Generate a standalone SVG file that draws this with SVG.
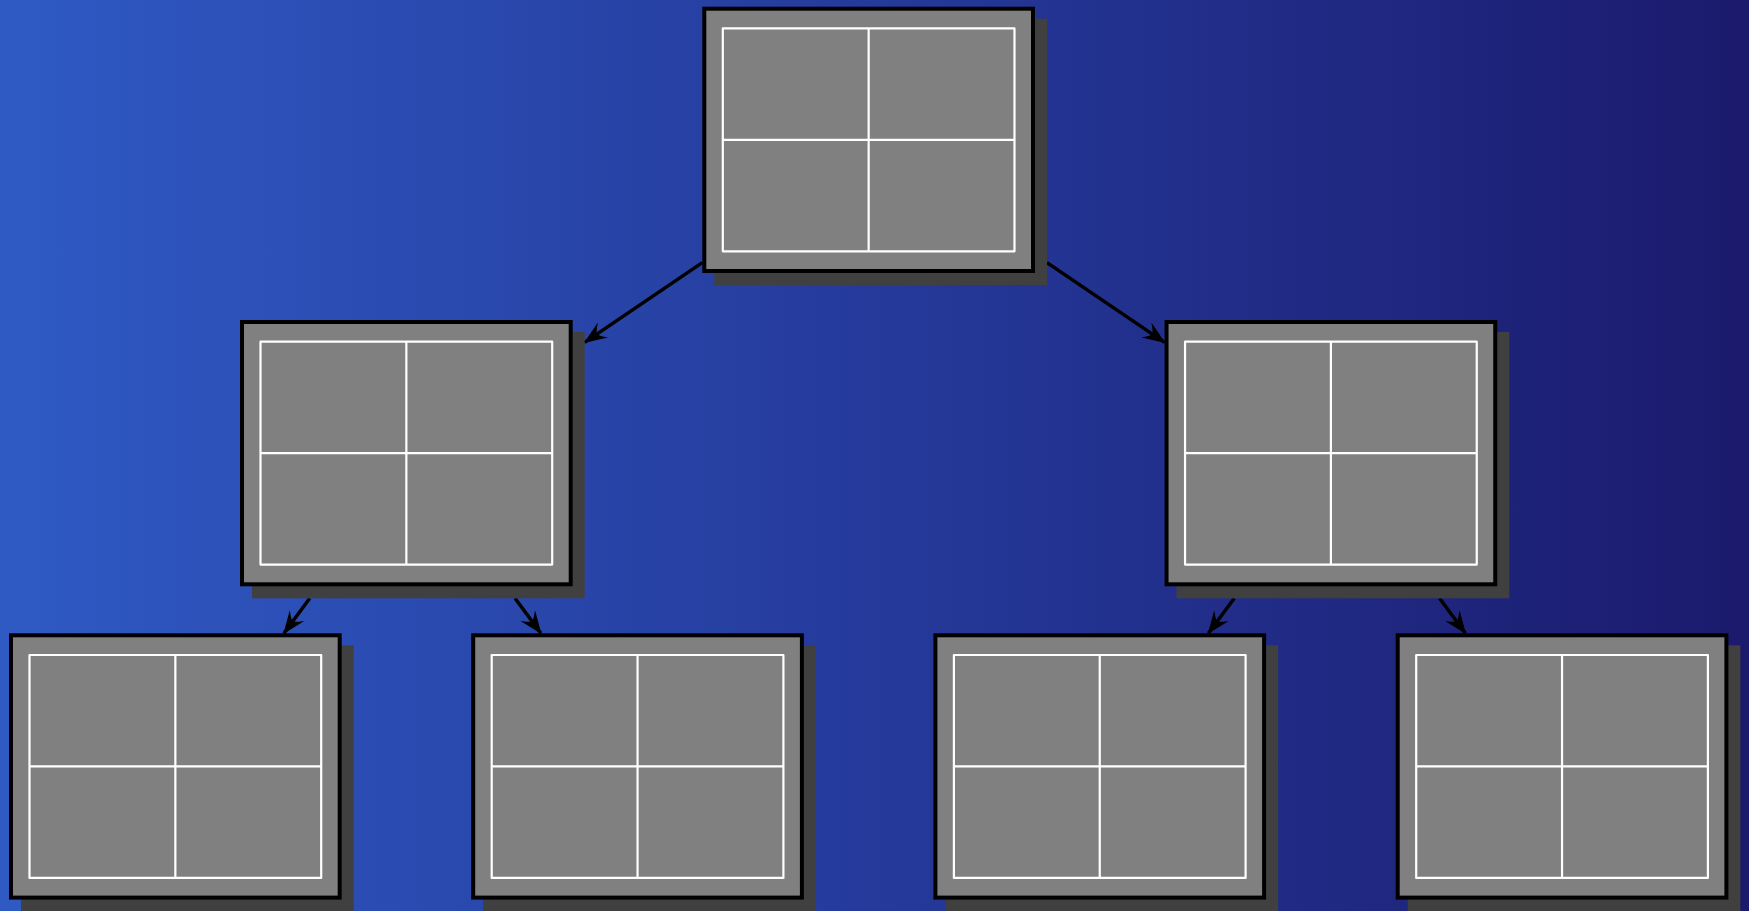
<svg xmlns="http://www.w3.org/2000/svg" width="1749" height="911" viewBox="0 0 1749 911">
  <defs>
    <linearGradient id="bg" x1="0" y1="0" x2="1" y2="0">
      <stop offset="0" stop-color="#2f5ac4"/>
      <stop offset="0.5" stop-color="#253a9b"/>
      <stop offset="1" stop-color="#1b1a6d"/>
    </linearGradient>
    <marker id="head" markerUnits="userSpaceOnUse" viewBox="-24 -11 26 22" refX="0" refY="0" markerWidth="26" markerHeight="22" orient="auto">
      <path d="M1,0 L-22,-9 Q-16,-3 -14.5,0 Q-16,3 -22,9 Z" fill="#000"/>
    </marker>
    <!-- one tree node: drop shadow, framed panel and a 2x2 grid -->
    <g id="panel">
      <rect x="10" y="10" width="332.7" height="266.3" fill="#404040"/>
      <rect x="0" y="0" width="328.7" height="262.3" fill="#808080" stroke="#000" stroke-width="4"/>
      <rect x="18.5" y="19.7" width="291.7" height="222.9" fill="none" stroke="#fff" stroke-width="2.2" stroke-linejoin="round"/>
      <line x1="164.35" y1="19.7" x2="164.35" y2="242.6" stroke="#fff" stroke-width="2.2"/>
      <line x1="18.5" y1="131.15" x2="310.2" y2="131.15" stroke="#fff" stroke-width="2.2"/>
    </g>
  </defs>
  <style>
    .edge { fill: none; stroke: #000; stroke-width: 3.5; marker-end: url(#head); }
  </style>

  <rect x="0" y="0" width="1749" height="911" fill="url(#bg)"/>

  <g id="connectors">
    <line class="edge" x1="702.3" y1="262.65" x2="584.7" y2="342.35"/>
    <line class="edge" x1="1047" y1="262.65" x2="1164.55" y2="342.35"/>
    <line class="edge" x1="309.76" y1="598.3" x2="283.94" y2="633.3"/>
    <line class="edge" x1="515.03" y1="598.3" x2="540.87" y2="633.3"/>
    <line class="edge" x1="1234.25" y1="598.3" x2="1208.4" y2="633.3"/>
    <line class="edge" x1="1439.55" y1="598.3" x2="1465.4" y2="633.3"/>
  </g>

  <g id="node-root"><use href="#panel" x="704.3" y="8.7"/></g>
  <g id="node-l"><use href="#panel" x="242" y="322"/></g>
  <g id="node-r"><use href="#panel" x="1166.55" y="322"/></g>
  <g id="node-ll"><use href="#panel" x="11" y="635.3"/></g>
  <g id="node-lr"><use href="#panel" x="473.2" y="635.3"/></g>
  <g id="node-rl"><use href="#panel" x="935.4" y="635.3"/></g>
  <g id="node-rr"><use href="#panel" x="1397.7" y="635.3"/></g>
</svg>
